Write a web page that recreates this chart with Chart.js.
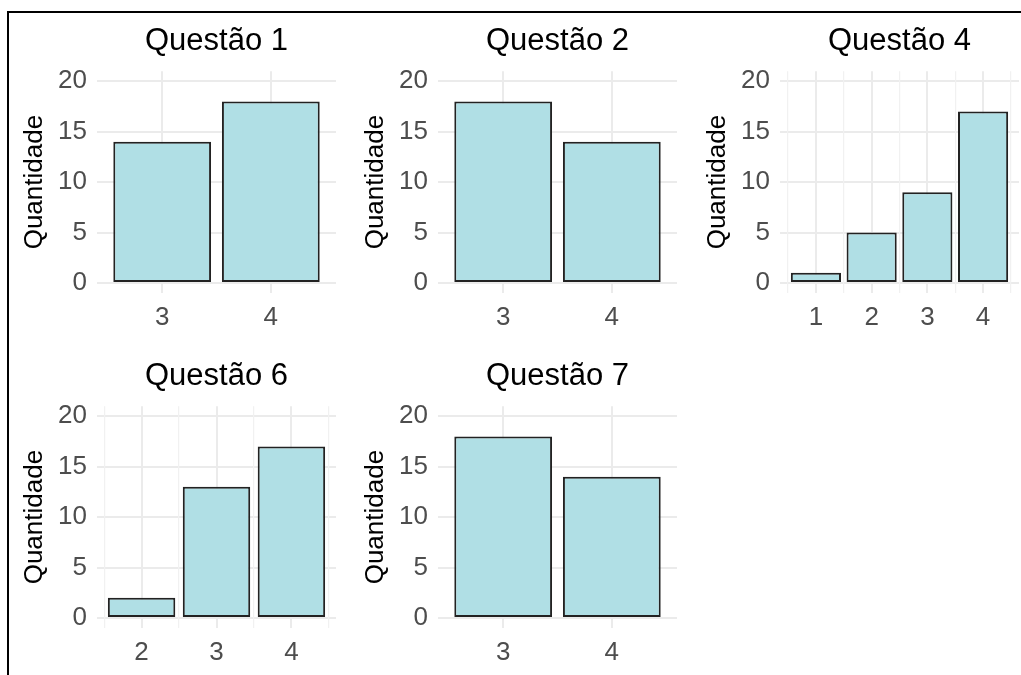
<!DOCTYPE html>
<html>
<head>
<meta charset="utf-8">
<script src="https://cdn.jsdelivr.net/npm/chart.js@4"></script>
<style>
  html, body { margin: 0; padding: 0; background: #fff; width: 1021px; height: 675px; overflow: hidden; }
  body { position: relative; }
  .frame { position: absolute; left: 7px; top: 11px; width: 1100px; height: 800px; border-top: 2px solid #000; border-left: 2px solid #000; }
  canvas { position: absolute; }
</style>
</head>
<body>
<div class="frame"></div>
<script>
// answers per question
const q1Cats = [3, 4],       q1Vals = [14, 18];
const q2Cats = [3, 4],       q2Vals = [18, 14];
const q4Cats = [1, 2, 3, 4], q4Vals = [1, 5, 9, 17];
const q6Cats = [2, 3, 4],    q6Vals = [2, 13, 17];
const q7Cats = [3, 4],       q7Vals = [18, 14];

const yMajor = [0, 5, 10, 15, 20];
const yMinor = [2.5, 7.5, 12.5, 17.5];
const yLabel = 'Quantidade';

Chart.defaults.font.family = "'Liberation Sans', Arial, sans-serif";

// plot rect [left, top, right, bottom]; minor = continuous x (half-step grid)
const panels = [
  { title: 'Questão 1', cats: q1Cats, vals: q1Vals, minor: false, plot: [97, 71, 336, 293] },
  { title: 'Questão 2', cats: q2Cats, vals: q2Vals, minor: false, plot: [438, 71, 677, 293] },
  { title: 'Questão 4', cats: q4Cats, vals: q4Vals, minor: true,  plot: [780, 71, 1019, 293] },
  { title: 'Questão 6', cats: q6Cats, vals: q6Vals, minor: true,  plot: [97, 406, 336, 628] },
  { title: 'Questão 7', cats: q7Cats, vals: q7Vals, minor: false, plot: [438, 406, 677, 628] }
];

const LEFT = 90, TOP = 51, BOTTOM = 44, RIGHT = 6;

panels.forEach(p => {
  const [L, T, R, B] = p.plot;
  const cv = document.createElement('canvas');
  cv.width = (R - L) + LEFT + RIGHT;
  cv.height = (B - T) + TOP + BOTTOM;
  cv.style.left = (L - LEFT) + 'px';
  cv.style.top = (T - TOP) + 'px';
  document.body.appendChild(cv);

  const first = p.cats[0], last = p.cats[p.cats.length - 1];
  let xMin, xMax, minorTicks = [];
  if (p.minor) {
    const lo = first - 0.45, hi = last + 0.45, pad = (hi - lo) * 0.05;
    xMin = lo - pad; xMax = hi + pad;
    for (let v = first - 0.5; v <= last + 0.5; v += 1) minorTicks.push(v);
  } else {
    xMin = first - 0.6; xMax = last + 0.6;
  }

  const scales = {
    x: {
      type: 'linear', min: xMin, max: xMax, offset: false,
      afterBuildTicks: s => { s.ticks = p.cats.map(v => ({ value: v })); },
      afterFit: s => { s.height = BOTTOM; },
      grid: { color: '#ebebeb', lineWidth: 2, drawTicks: false, offset: false },
      border: { display: false },
      ticks: { color: '#4d4d4d', font: { size: 26 }, padding: 9, callback: v => String(v) }
    },
    y: {
      min: -1, max: 21,
      afterBuildTicks: s => { s.ticks = yMajor.concat(yMinor).sort((a, b) => a - b).map(v => ({ value: v })); },
      afterFit: s => { s.width = LEFT; },
      grid: {
        drawTicks: false,
        color: c => yMajor.includes(c.tick.value) ? '#ebebeb' : '#f1f1f1',
        lineWidth: c => yMajor.includes(c.tick.value) ? 2 : 1.2
      },
      border: { display: false },
      ticks: { color: '#4d4d4d', font: { size: 26 }, padding: 10, callback: v => yMajor.includes(v) ? String(v) : '' },
      title: { display: true, text: yLabel, color: '#000', font: { size: 26 }, padding: { top: 12, bottom: 0 } }
    }
  };
  if (minorTicks.length) {
    scales.xm = {
      type: 'linear', position: 'bottom', min: xMin, max: xMax, offset: false,
      afterBuildTicks: s => { s.ticks = minorTicks.map(v => ({ value: v })); },
      afterFit: s => { s.height = 0; },
      grid: { color: '#f1f1f1', lineWidth: 1.2, drawTicks: false, offset: false },
      border: { display: false },
      ticks: { display: false }
    };
  }

  new Chart(cv, {
    type: 'bar',
    data: {
      datasets: [{
        data: p.cats.map((c, i) => ({ x: c, y: p.vals[i] })),
        backgroundColor: '#b0dfe5',
        borderColor: '#222222',
        borderWidth: 2,
        borderSkipped: false,
        barPercentage: 0.9,
        categoryPercentage: 1
      }]
    },
    options: {
      responsive: false,
      animation: false,
      layout: { padding: { right: RIGHT } },
      plugins: {
        legend: { display: false },
        tooltip: { enabled: false },
        title: {
          display: true, text: p.title, color: '#000', fullSize: false,
          font: { size: 31, weight: 'normal' }, padding: { top: 3, bottom: 11 }
        }
      },
      scales: scales
    }
  });
});
</script>
</body>
</html>
